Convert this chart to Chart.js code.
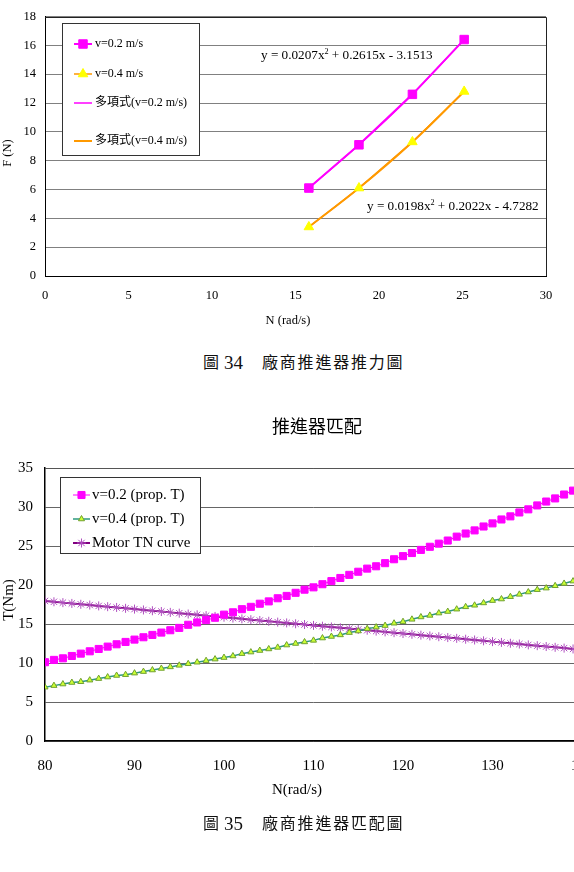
<!DOCTYPE html>
<html>
<head>
<meta charset="utf-8">
<script src="https://cdn.jsdelivr.net/npm/chart.js@4.4.1/dist/chart.umd.min.js"></script>
<style>
    html, body { margin: 0; padding: 0; background: #fff; width: 574px; height: 872px; overflow: hidden; }
    #wrap1 { position: absolute; left: 0; top: 0; width: 574px; height: 340px; }
    #wrap2 { position: absolute; left: 0; top: 400px; width: 640px; height: 420px; }
    .cap { position: absolute; font-family: "Liberation Serif", "Noto Sans CJK TC", serif; color: #111; white-space: nowrap; line-height: 1; }
    .cap .num { font-size: 19px; }
    .cap .zh { font-family: "Noto Sans CJK TC", sans-serif; font-size: 16px; letter-spacing: 1.8px; font-weight: 400; }
</style>
</head>
<body>
<div id="wrap1"><canvas id="c1" width="574" height="340"></canvas></div>
<div id="wrap2"><canvas id="c2" width="640" height="420"></canvas></div>

<div class="cap" style="left:203px; top:353px;"><span class="zh">圖</span></div>
<div class="cap" style="left:224px; top:353px;"><span class="num">34</span></div>
<div class="cap" style="left:262px; top:353px;"><span class="zh">廠商推進器推力圖</span></div>

<div class="cap" style="left:203px; top:814px;"><span class="zh">圖</span></div>
<div class="cap" style="left:224px; top:814px;"><span class="num">35</span></div>
<div class="cap" style="left:262px; top:814px;"><span class="zh">廠商推進器匹配圖</span></div>

<script>
    'use strict';

    // ---- Fig 34: thrust vs N ----
    var n02 = [15.8, 18.8, 22.0, 25.1];
    var f02 = [6.1, 9.1, 12.6, 16.4];
    var n04 = [15.8, 18.8, 22.0, 25.1];
    var f04 = [3.4, 6.1, 9.3, 12.8];
    var xTicks1 = [0, 5, 10, 15, 20, 25, 30];
    var yTicks1 = [0, 2, 4, 6, 8, 10, 12, 14, 16, 18];
    var labels1 = ['v=0.2 m/s', 'v=0.4 m/s', '多項式(v=0.2 m/s)', '多項式(v=0.4 m/s)'];

    // ---- Fig 35: propeller matching ----
    var nVals = [80, 81, 82, 83, 84, 85, 86, 87, 88, 89, 90, 91, 92, 93, 94, 95, 96, 97, 98, 99,
        100, 101, 102, 103, 104, 105, 106, 107, 108, 109, 110, 111, 112, 113, 114, 115, 116, 117, 118, 119,
        120, 121, 122, 123, 124, 125, 126, 127, 128, 129, 130, 131, 132, 133, 134, 135, 136, 137, 138, 139, 140];
    var tProp02 = [10.1, 10.4, 10.6, 10.9, 11.2, 11.5, 11.8, 12.1, 12.4, 12.7, 13.0, 13.3, 13.6, 13.9, 14.2, 14.5,
        14.9, 15.2, 15.5, 15.8, 16.2, 16.5, 16.9, 17.2, 17.6, 17.9, 18.3, 18.6, 19.0, 19.4, 19.7, 20.1, 20.5, 20.9,
        21.3, 21.7, 22.1, 22.4, 22.8, 23.3, 23.7, 24.1, 24.5, 24.9, 25.3, 25.7, 26.2, 26.6, 27.0, 27.5, 27.9, 28.4,
        28.8, 29.3, 29.7, 30.2, 30.7, 31.1, 31.6, 32.1, 32.5];
    var tProp04 = [6.9, 7.1, 7.3, 7.5, 7.6, 7.8, 8.0, 8.2, 8.4, 8.5, 8.7, 8.9, 9.1, 9.3, 9.5, 9.7, 9.9, 10.1,
        10.3, 10.5, 10.7, 10.9, 11.2, 11.4, 11.6, 11.8, 12.0, 12.3, 12.5, 12.7, 12.9, 13.2, 13.4, 13.6, 13.9, 14.1,
        14.4, 14.6, 14.8, 15.1, 15.3, 15.6, 15.9, 16.1, 16.4, 16.6, 16.9, 17.2, 17.4, 17.7, 18.0, 18.2, 18.5, 18.8,
        19.1, 19.4, 19.6, 19.9, 20.2, 20.5, 20.8];
    var tMotor = [17.95, 17.85, 17.74, 17.64, 17.53, 17.43, 17.32, 17.22, 17.12, 17.01, 16.91, 16.80, 16.70, 16.60,
        16.49, 16.39, 16.28, 16.18, 16.07, 15.97, 15.87, 15.76, 15.66, 15.55, 15.45, 15.35, 15.24, 15.14, 15.03,
        14.93, 14.82, 14.72, 14.62, 14.51, 14.41, 14.30, 14.20, 14.09, 13.99, 13.89, 13.78, 13.68, 13.57, 13.47,
        13.37, 13.26, 13.16, 13.05, 12.95, 12.84, 12.74, 12.64, 12.53, 12.43, 12.32, 12.22, 12.11, 12.01, 11.91,
        11.80, 11.70];
    var xTicks2 = [80, 90, 100, 110, 120, 130, 140];
    var yTicks2 = [0, 5, 10, 15, 20, 25, 30, 35];
    var labels2 = ['v=0.2 (prop. T)', 'v=0.4 (prop. T)', 'Motor TN curve'];

    var FONT = '"Liberation Serif", "Noto Sans CJK TC", serif';
    Chart.defaults.font.family = FONT;
    Chart.defaults.color = '#000';

    function pts(xs, ys) {
        var out = [];
        for (var i = 0; i < xs.length; i++) out.push({ x: xs[i], y: ys[i] });
        return out;
    }

    function fixedTicks(list) {
        return function (scale) {
            scale.ticks = list.map(function (v) { return { value: v }; });
        };
    }

    // text with optional superscript parts
    function drawText(ctx, t) {
        ctx.save();
        ctx.fillStyle = '#000';
        ctx.textBaseline = 'middle';
        ctx.translate(t.x, t.y);
        if (t.rot) ctx.rotate(t.rot);
        var parts = t.parts || [[t.text, false]];
        var total = 0;
        parts.forEach(function (p) {
            ctx.font = (p[1] ? t.size * 0.62 : t.size) + 'px ' + FONT;
            total += ctx.measureText(p[0]).width;
        });
        var x = t.align === 'center' ? -total / 2 : 0;
        ctx.textAlign = 'left';
        parts.forEach(function (p) {
            ctx.font = (p[1] ? t.size * 0.62 : t.size) + 'px ' + FONT;
            ctx.fillText(p[0], x, p[1] ? -t.size * 0.32 : 0);
            x += ctx.measureText(p[0]).width;
        });
        ctx.restore();
    }

    // frame, boxed legend inside the plot, free texts
    var decoPlugin = {
        id: 'deco',
        afterDraw: function (chart, args, opts) {
            var ctx = chart.ctx, a = chart.chartArea;
            ctx.save();
            ctx.strokeStyle = opts.frameColor;
            ctx.lineWidth = 1;
            ctx.beginPath();
            ctx.moveTo(a.left, Math.round(a.top) + 0.5);
            ctx.lineTo(Math.round(a.right) + 0.5, Math.round(a.top) + 0.5);
            ctx.lineTo(Math.round(a.right) + 0.5, a.bottom);
            ctx.stroke();

            var lg = opts.legend;
            ctx.fillStyle = '#fff';
            ctx.fillRect(lg.x, lg.y, lg.w, lg.h);
            ctx.strokeStyle = '#333';
            ctx.strokeRect(lg.x + 0.5, lg.y + 0.5, lg.w, lg.h);
            lg.rows.forEach(function (ry, i) {
                var ds = chart.data.datasets[i];
                ctx.save();
                ctx.strokeStyle = ds.borderColor;
                ctx.lineWidth = ds.borderWidth;
                ctx.beginPath();
                ctx.moveTo(lg.lineX0, ry);
                ctx.lineTo(lg.lineX1, ry);
                ctx.stroke();
                if (ds.pointRadius > 0) {
                    ctx.fillStyle = ds.pointBackgroundColor;
                    ctx.strokeStyle = ds.pointBorderColor;
                    ctx.lineWidth = ds.pointBorderWidth;
                    Chart.helpers.drawPoint(ctx, {
                        pointStyle: ds.pointStyle, radius: ds.pointRadius,
                        rotation: 0, borderWidth: ds.pointBorderWidth
                    }, (lg.lineX0 + lg.lineX1) / 2, ry);
                }
                ctx.restore();
                drawText(ctx, { text: ds.label, x: lg.textX, y: ry, size: lg.size });
            });

            opts.texts.forEach(function (t) { drawText(ctx, t); });
            ctx.restore();
        }
    };

    // ---- chart 1 ----
    new Chart(document.getElementById('c1'), {
        type: 'line',
        data: {
            datasets: [
                {
                    label: labels1[0], data: pts(n02, f02),
                    borderColor: '#FF00FF', borderWidth: 2,
                    pointStyle: 'rect', pointRadius: 6,
                    pointBackgroundColor: '#FF00FF', pointBorderColor: '#FF00FF', pointBorderWidth: 1
                },
                {
                    label: labels1[1], data: pts(n04, f04),
                    borderColor: '#FF9900', borderWidth: 1.5,
                    pointStyle: 'triangle', pointRadius: 5.5,
                    pointBackgroundColor: '#FFFF00', pointBorderColor: '#FFFF00', pointBorderWidth: 1
                },
                {
                    label: labels1[2], data: pts(n02, f02),
                    borderColor: '#FF00FF', borderWidth: 1.5, tension: 0.4,
                    pointRadius: 0
                },
                {
                    label: labels1[3], data: pts(n04, f04),
                    borderColor: '#FF9900', borderWidth: 2, tension: 0.4,
                    pointRadius: 0
                }
            ]
        },
        options: {
            responsive: false,
            animation: false,
            layout: { padding: { top: 15, right: 28, left: 0, bottom: 0 } },
            plugins: {
                legend: { display: false },
                tooltip: { enabled: false },
                deco: {
                    frameColor: '#222',
                    legend: {
                        x: 62, y: 23, w: 137, h: 132,
                        rows: [44, 74, 103, 141],
                        lineX0: 74, lineX1: 92, textX: 95, size: 12
                    },
                    texts: [
                        { parts: [['y = 0.0207x', false], ['2', true], [' + 0.2615x - 3.1513', false]], x: 261, y: 56, size: 13.2 },
                        { parts: [['y = 0.0198x', false], ['2', true], [' + 0.2022x - 4.7282', false]], x: 367, y: 207, size: 13.2 },
                        { text: 'N (rad/s)', x: 288, y: 321, size: 12.5, align: 'center' },
                        { text: 'F (N)', x: 8, y: 153, size: 12.5, align: 'center', rot: -Math.PI / 2 }
                    ]
                }
            },
            scales: {
                x: {
                    type: 'linear', min: 0, max: 30,
                    afterBuildTicks: fixedTicks(xTicks1),
                    afterFit: function (s) { s.height = 64; },
                    grid: { drawOnChartArea: false, drawTicks: false },
                    border: { color: '#000', width: 1 },
                    ticks: { font: { size: 12.5 }, padding: 12, color: '#000', maxRotation: 0 }
                },
                y: {
                    min: 0, max: 18,
                    afterBuildTicks: fixedTicks(yTicks1),
                    afterFit: function (s) { s.width = 45; },
                    grid: { color: '#808080', drawTicks: false },
                    border: { color: '#000', width: 1 },
                    ticks: { font: { size: 12.5 }, padding: 9, color: '#000' }
                }
            }
        },
        plugins: [decoPlugin]
    });

    // ---- chart 2 ----
    new Chart(document.getElementById('c2'), {
        type: 'line',
        data: {
            datasets: [
                {
                    label: labels2[0], data: pts(nVals, tProp02),
                    borderColor: '#FF00FF', borderWidth: 1,
                    pointStyle: 'rect', pointRadius: 5,
                    pointBackgroundColor: '#FF00FF', pointBorderColor: '#FF00FF', pointBorderWidth: 1
                },
                {
                    label: labels2[1], data: pts(nVals, tProp04),
                    borderColor: '#2E9A7E', borderWidth: 1.5,
                    pointStyle: 'triangle', pointRadius: 3.5,
                    pointBackgroundColor: '#CCFF33', pointBorderColor: '#70A030', pointBorderWidth: 1
                },
                {
                    label: labels2[2], data: pts(nVals, tMotor),
                    borderColor: '#800080', borderWidth: 2,
                    pointStyle: 'star', pointRadius: 4.5,
                    pointBackgroundColor: '#B050C0', pointBorderColor: '#B050C0', pointBorderWidth: 1
                }
            ]
        },
        options: {
            responsive: false,
            animation: false,
            layout: { padding: { top: 68, right: 58, left: 0, bottom: 0 } },
            plugins: {
                legend: { display: false },
                tooltip: { enabled: false },
                deco: {
                    frameColor: '#555',
                    legend: {
                        x: 60, y: 77, w: 140, h: 76,
                        rows: [95, 119, 143],
                        lineX0: 73, lineX1: 90, textX: 92, size: 15
                    },
                    texts: [
                        { text: '推進器匹配', x: 317, y: 28, size: 18, align: 'center' },
                        { text: 'N(rad/s)', x: 297, y: 390, size: 15, align: 'center' },
                        { text: 'T(Nm)', x: 9, y: 200, size: 15, align: 'center', rot: -Math.PI / 2 }
                    ]
                }
            },
            scales: {
                x: {
                    type: 'linear', min: 80, max: 140,
                    afterBuildTicks: fixedTicks(xTicks2),
                    afterFit: function (s) { s.height = 79; },
                    grid: { drawOnChartArea: false, drawTicks: false },
                    border: { color: '#000', width: 1.5 },
                    ticks: { font: { size: 15 }, padding: 16, color: '#000', maxRotation: 0 }
                },
                y: {
                    min: 0, max: 35,
                    afterBuildTicks: fixedTicks(yTicks2),
                    afterFit: function (s) { s.width = 45; },
                    grid: { color: '#666', drawTicks: false },
                    border: { color: '#000', width: 1.5 },
                    ticks: { font: { size: 15 }, padding: 12, color: '#000' }
                }
            }
        },
        plugins: [decoPlugin]
    });
</script>
</body>
</html>
